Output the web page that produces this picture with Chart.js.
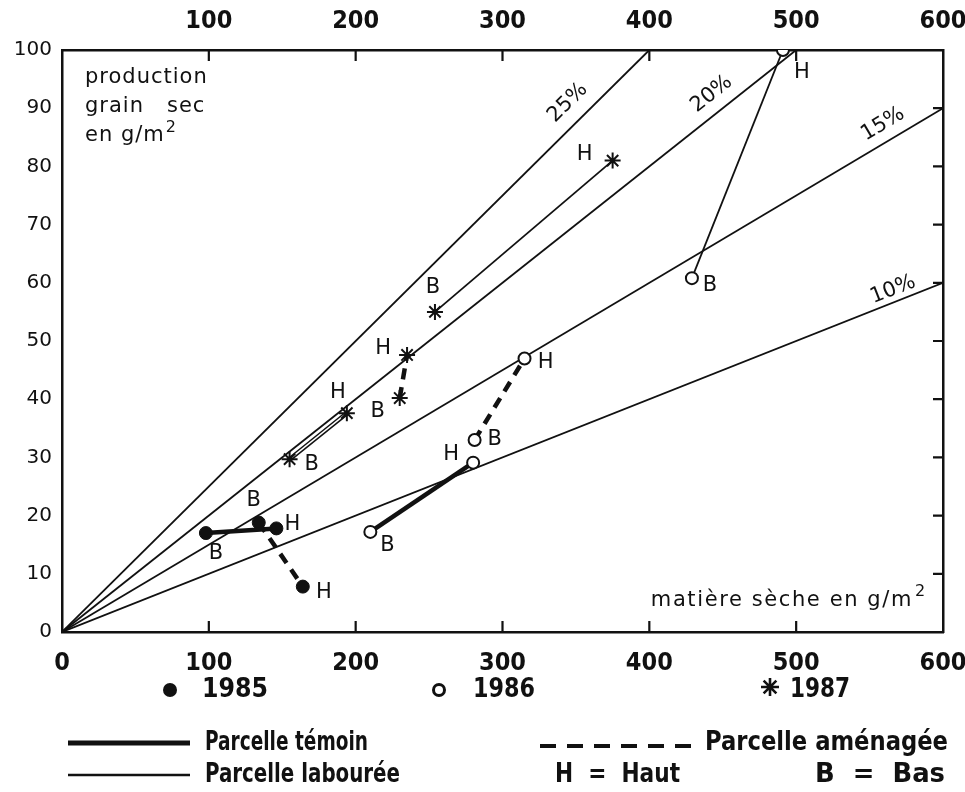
<!DOCTYPE html>
<html>
<head>
<meta charset="utf-8">
<script src="https://cdn.jsdelivr.net/npm/chart.js@4.4.1/dist/chart.umd.min.js"></script>
<style>
  html, body { margin: 0; padding: 0; background: #fff; }
  canvas { display: block; }
</style>
</head>
<body>
<canvas id="chart" width="965" height="792"></canvas>
<script>
// axes
const xMax = 600;
const yMax = 100;
const xStep = 100;
const yStep = 10;

// harvest-index reference lines (grain / dry matter), from origin
const ratioNames = ['25%', '20%', '15%', '10%'];
const ratioEndX = [400, 500, 600, 600];
const ratioEndY = [100, 100, 90, 60];

// each pair is [B, H]  (B = Bas, H = Haut)
const y85TemoinX = [98, 146];   const y85TemoinY = [17, 17.8];
const y85AmenX   = [134, 164];  const y85AmenY   = [18.8, 7.8];
const y86TemoinX = [210, 280];  const y86TemoinY = [17.2, 29.1];
const y86AmenX   = [281, 315];  const y86AmenY   = [33, 47];
const y86LabX    = [429, 491];  const y86LabY    = [60.8, 100];
const y87TemoinX = [155, 194];  const y87TemoinY = [29.7, 37.6];
const y87AmenX   = [230, 235];  const y87AmenY   = [40.2, 47.6];
const y87LabX    = [254, 375];  const y87LabY    = [55, 81];
const pairNames  = ['B', 'H'];

const INK = '#111';
const NARROW = "'Liberation Sans Narrow', 'DejaVu Sans Condensed', 'Liberation Sans', sans-serif";
const ROUND = "'DejaVu Sans', 'Noto Sans', sans-serif";

const pts = (xs, ys) => xs.map((x, i) => ({ x, y: ys[i] }));

const marker = {
  1985: { pointStyle: 'circle', pointRadius: 6.5, pointBackgroundColor: INK, pointBorderColor: INK, pointBorderWidth: 1 },
  1986: { pointStyle: 'circle', pointRadius: 6, pointBackgroundColor: '#fff', pointBorderColor: INK, pointBorderWidth: 2 },
  1987: { pointStyle: 'star', pointRadius: 8, pointBackgroundColor: INK, pointBorderColor: INK, pointBorderWidth: 2 }
};
const lineStyle = {
  temoin: { borderWidth: 4.5, borderDash: [] },
  amen:   { borderWidth: 4.5, borderDash: [11, 8] },
  lab:    { borderWidth: 1.8, borderDash: [] }
};

// label offsets in px for [B, H] of each pair
function seg(xs, ys, year, kind, offs) {
  return Object.assign({
    data: pts(xs, ys), showLine: true, borderColor: INK, backgroundColor: INK,
    pointLabels: pairNames, labelOffsets: offs
  }, lineStyle[kind], marker[year]);
}

const datasets = [
  seg(y85TemoinX, y85TemoinY, 1985, 'temoin', [[10, 20], [16, -4]]),
  seg(y85AmenX, y85AmenY, 1985, 'amen', [[-5, -22], [21, 6]]),
  seg(y86TemoinX, y86TemoinY, 1986, 'temoin', [[17, 14], [-22, -8]]),
  seg(y86AmenX, y86AmenY, 1986, 'amen', [[20, 0], [21, 4]]),
  seg(y86LabX, y86LabY, 1986, 'lab', [[18, 7], [19, 23]]),
  // 1987 first pair is drawn as an outlined (double) stroke
  Object.assign({ data: pts(y87TemoinX, y87TemoinY), showLine: false, pointLabels: pairNames,
    labelOffsets: [[22, 5], [-9, -21]] }, marker[1987]),
  { data: pts(y87TemoinX, y87TemoinY), showLine: true, borderColor: '#fff', borderWidth: 1.4, pointRadius: 0 },
  { data: pts(y87TemoinX, y87TemoinY), showLine: true, borderColor: INK, borderWidth: 4.5, pointRadius: 0 },
  seg(y87AmenX, y87AmenY, 1987, 'amen', [[-22, 14], [-24, -6]]),
  seg(y87LabX, y87LabY, 1987, 'lab', [[-2, -24], [-28, -6]])
];

ratioNames.forEach((name, i) => {
  datasets.push({
    data: [{ x: 0, y: 0 }, { x: ratioEndX[i], y: ratioEndY[i] }],
    showLine: true, borderColor: INK, borderWidth: 1.8, pointRadius: 0, ratioName: name
  });
});

// where the percent labels sit along their line (x value) and how far off it (px)
const ratioLabelX = [354, 450, 565, 569];
const ratioLabelGap = [20, 18, 17, 12];

const inwardTicks = {
  id: 'inwardTicks',
  afterDraw(chart) {
    const { ctx, chartArea: a, scales } = chart;
    ctx.save();
    ctx.strokeStyle = INK;
    ctx.lineWidth = 2.2;
    ctx.beginPath();
    scales.x.ticks.forEach(t => {
      if (t.value <= 0 || t.value >= xMax) return;
      const px = scales.x.getPixelForValue(t.value);
      ctx.moveTo(px, a.bottom); ctx.lineTo(px, a.bottom - 11);
      ctx.moveTo(px, a.top); ctx.lineTo(px, a.top + 11);
    });
    scales.y2.ticks.forEach(t => {
      if (t.value <= 0 || t.value >= yMax) return;
      const py = scales.y2.getPixelForValue(t.value);
      ctx.moveTo(a.right, py); ctx.lineTo(a.right - 10, py);
    });
    ctx.stroke();
    ctx.restore();
  }
};

// squeeze legend text into the width it takes on the original
function fitText(ctx, text, x, y, width) {
  const w = ctx.measureText(text).width;
  ctx.save();
  ctx.translate(x, y);
  ctx.scale(width / w, 1);
  ctx.fillText(text, 0, 0);
  ctx.restore();
}

const annotations = {
  id: 'annotations',
  afterDraw(chart) {
    const { ctx, chartArea: a, scales: { x, y } } = chart;
    ctx.save();
    ctx.fillStyle = INK;
    ctx.strokeStyle = INK;

    // percent labels along the reference lines
    ctx.font = `21px ${ROUND}`;
    ctx.textAlign = 'center';
    ctx.textBaseline = 'middle';
    ratioNames.forEach((name, i) => {
      const x0 = x.getPixelForValue(0), y0 = y.getPixelForValue(0);
      const lx = ratioLabelX[i];
      const x1 = x.getPixelForValue(lx), y1 = y.getPixelForValue(lx * ratioEndY[i] / ratioEndX[i]);
      const ang = Math.atan2(y1 - y0, x1 - x0);
      const d = ratioLabelGap[i];
      ctx.save();
      ctx.translate(x1 + Math.sin(ang) * d, y1 - Math.cos(ang) * d);
      ctx.rotate(ang);
      ctx.fillText(name, 0, 0);
      ctx.restore();
    });

    // H / B point labels
    ctx.font = `21px ${ROUND}`;
    chart.data.datasets.forEach((ds, di) => {
      if (!ds.pointLabels) return;
      chart.getDatasetMeta(di).data.forEach((p, i) => {
        const o = ds.labelOffsets[i];
        ctx.fillText(ds.pointLabels[i], p.x + o[0], p.y + o[1]);
      });
    });

    // axis titles inside the frame
    ctx.textAlign = 'left';
    ctx.font = `21px ${ROUND}`;
    ctx.letterSpacing = '1px';
    ctx.fillText('production', a.left + 23, a.top + 28);
    ctx.fillText('grain   sec', a.left + 23, a.top + 57);
    ctx.fillText('en g/m', a.left + 23, a.top + 86);
    const w = ctx.measureText('en g/m').width;
    ctx.font = `16px ${ROUND}`;
    ctx.fillText('2', a.left + 24 + w, a.top + 78);

    ctx.font = `21px ${ROUND}`;
    ctx.letterSpacing = '1.6px';
    ctx.textAlign = 'right';
    ctx.fillText('matière sèche en g/m', a.right - 30, a.bottom - 31);
    ctx.textAlign = 'left';
    ctx.font = `16px ${ROUND}`;
    ctx.fillText('2', a.right - 28, a.bottom - 40);
    ctx.letterSpacing = '0px';

    // legend below the axis
    ctx.font = `bold 27px ${NARROW}`;
    ctx.textBaseline = 'middle';
    const r1 = 690, r2 = 743, r3 = 775;
    ctx.beginPath(); ctx.arc(170, r1, 7, 0, Math.PI * 2); ctx.fill();
    fitText(ctx, '1985', 202, r1, 66);
    ctx.lineWidth = 3;
    ctx.beginPath(); ctx.arc(439, r1, 5.5, 0, Math.PI * 2); ctx.stroke();
    fitText(ctx, '1986', 473, r1, 62);
    ctx.lineWidth = 2.6;
    Chart.helpers.drawPoint(ctx, { pointStyle: 'star', radius: 9, rotation: 0, borderWidth: 2.6 }, 770, r1 - 3);
    fitText(ctx, '1987', 790, r1, 60);

    ctx.lineWidth = 5;
    ctx.beginPath(); ctx.moveTo(68, r2); ctx.lineTo(190, r2); ctx.stroke();
    fitText(ctx, 'Parcelle témoin', 205, r2, 163);
    ctx.setLineDash([16, 11]);
    ctx.lineWidth = 4;
    ctx.beginPath(); ctx.moveTo(540, r2 + 3); ctx.lineTo(692, r2 + 3); ctx.stroke();
    ctx.setLineDash([]);
    fitText(ctx, 'Parcelle aménagée', 705, r2, 243);

    ctx.lineWidth = 2.4;
    ctx.beginPath(); ctx.moveTo(68, r3); ctx.lineTo(190, r3); ctx.stroke();
    fitText(ctx, 'Parcelle labourée', 205, r3, 195);
    fitText(ctx, 'H  =  Haut', 555, r3, 125);
    fitText(ctx, 'B  =  Bas', 815, r3, 130);
    ctx.restore();
  }
};

const axisBase = {
  type: 'linear',
  grid: { display: false, drawTicks: false },
  border: { display: true, color: INK, width: 2.5 }
};
const noOverhang = s => { s.paddingLeft = 0; s.paddingRight = 0; };
const xTickFont = { family: NARROW, size: 25, weight: 'bold' };

new Chart(document.getElementById('chart'), {
  type: 'scatter',
  data: { datasets },
  options: {
    responsive: false,
    animation: false,
    devicePixelRatio: 1,
    layout: { padding: { left: 0, right: 0, top: 0, bottom: 115 } },
    plugins: { legend: { display: false }, tooltip: { enabled: false } },
    scales: {
      x: Object.assign({}, axisBase, {
        position: 'bottom', min: 0, max: xMax,
        ticks: { stepSize: xStep, padding: 16, color: INK, maxRotation: 0, font: xTickFont },
        afterFit: s => { s.height = 45; noOverhang(s); }
      }),
      x2: Object.assign({}, axisBase, {
        position: 'top', min: 0, max: xMax,
        ticks: { stepSize: xStep, padding: 14, color: INK, maxRotation: 0, font: xTickFont,
          callback: v => (v === 0 ? '' : v) },
        afterFit: s => { s.height = 50; noOverhang(s); }
      }),
      y: Object.assign({}, axisBase, {
        position: 'left', min: 0, max: yMax,
        ticks: { stepSize: yStep, padding: 10, color: INK, font: { family: ROUND, size: 20 } },
        afterFit: s => { s.width = 62; s.paddingTop = 0; s.paddingBottom = 0; }
      }),
      y2: Object.assign({}, axisBase, {
        position: 'right', min: 0, max: yMax,
        ticks: { stepSize: yStep, display: false },
        afterFit: s => { s.width = 22; }
      })
    }
  },
  plugins: [inwardTicks, annotations]
});
</script>
</body>
</html>
